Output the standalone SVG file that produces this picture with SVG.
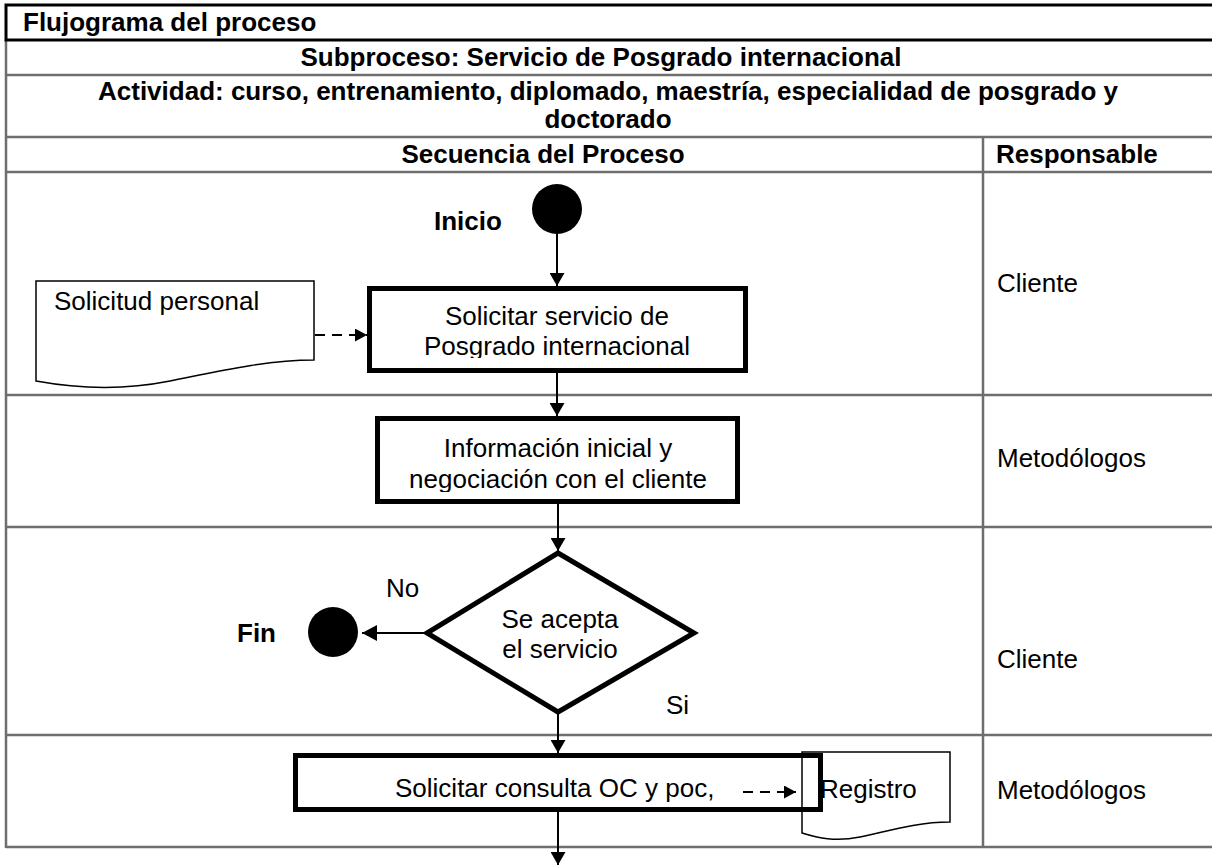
<svg xmlns="http://www.w3.org/2000/svg" width="1212" height="867" viewBox="0 0 1212 867">
  <style>
    .grid { stroke: #6e6e6e; stroke-width: 2.5; fill: none; }
    .frame { stroke: #000; stroke-width: 3; fill: none; }
    .hdr { font-family: "Liberation Sans", Arial, sans-serif; font-weight: bold; font-size: 26px; fill: #000; }
    .txt { font-family: "Liberation Sans", Arial, sans-serif; font-size: 26px; fill: #000; }
    .mid { text-anchor: middle; }
    .box { fill: #fff; stroke: #000; stroke-width: 5; }
    .doc { fill: #fff; stroke: #000; stroke-width: 1.5; }
    .flow { stroke: #000; stroke-width: 2; fill: none; }
    .dash { stroke: #000; stroke-width: 2; fill: none; stroke-dasharray: 10 7; }
  </style>
  <defs>
    <marker id="tri" viewBox="0 0 13 15" refX="13" refY="7.5" markerWidth="13" markerHeight="15" markerUnits="userSpaceOnUse" orient="auto">
      <path d="M0,0 L13,7.5 L0,15 Z" fill="#000"/>
    </marker>
    <marker id="triBig" viewBox="0 0 15 16" refX="15" refY="8" markerWidth="15" markerHeight="16" markerUnits="userSpaceOnUse" orient="auto">
      <path d="M0,0 L15,8 L0,16 Z" fill="#000"/>
    </marker>
    <marker id="triDash" viewBox="0 0 12 13" refX="12" refY="6.5" markerWidth="12" markerHeight="13" markerUnits="userSpaceOnUse" orient="auto">
      <path d="M0,0 L12,6.5 L0,13 Z" fill="#000"/>
    </marker>
    <clipPath id="clipBox1"><rect x="367" y="286" width="381" height="72"/></clipPath>
    <clipPath id="clipBox2"><rect x="375" y="416" width="365" height="76"/></clipPath>
  </defs>

  <rect width="1212" height="867" fill="#fff"/>

  <!-- table grid -->
  <g id="table">
    <line class="grid" x1="6" y1="40" x2="6" y2="848"/>
    <line class="grid" x1="6" y1="75" x2="1212" y2="75"/>
    <line class="grid" x1="6" y1="137" x2="1212" y2="137"/>
    <line class="grid" x1="6" y1="172" x2="1212" y2="172"/>
    <line class="grid" x1="6" y1="395" x2="1212" y2="395"/>
    <line class="grid" x1="6" y1="527" x2="1212" y2="527"/>
    <line class="grid" x1="6" y1="735" x2="1212" y2="735"/>
    <line class="grid" x1="6" y1="847" x2="1212" y2="847"/>
    <line class="grid" x1="983" y1="137" x2="983" y2="847"/>
    <path class="frame" d="M1212,5 H6 V40 H1212"/>

    <text class="hdr" x="23" y="31">Flujograma del proceso</text>
    <text class="hdr mid" x="601" y="66">Subproceso: Servicio de Posgrado internacional</text>
    <text class="hdr mid" x="608" y="100">Actividad: curso, entrenamiento, diplomado, maestría, especialidad de posgrado y</text>
    <text class="hdr mid" x="608" y="128">doctorado</text>
    <text class="hdr mid" x="543" y="163">Secuencia del Proceso</text>
    <text class="hdr" x="996" y="163">Responsable</text>

    <text class="txt" x="997" y="292">Cliente</text>
    <text class="txt" x="997" y="467">Metodólogos</text>
    <text class="txt" x="997" y="668">Cliente</text>
    <text class="txt" x="997" y="799">Metodólogos</text>
  </g>

  <!-- start -->
  <g id="inicio">
    <circle cx="557" cy="209" r="25" fill="#000"/>
    <text class="hdr" x="434" y="230">Inicio</text>
  </g>

  <!-- input document -->
  <g id="solicitud-personal">
    <path class="doc" d="M36,281 H314 V360 C265,360 215,372 170,381 C125,390 80,389 36,381 Z"/>
    <text class="txt" x="54" y="310">Solicitud personal</text>
  </g>

  <g id="solicitar-servicio">
    <rect class="box" x="369.5" y="288.5" width="376" height="82"/>
    <g clip-path="url(#clipBox1)">
      <text class="txt mid" x="557" y="325">Solicitar servicio de</text>
      <text class="txt mid" x="557" y="355">Posgrado internacional</text>
    </g>
  </g>

  <g id="informacion-inicial">
    <rect class="box" x="377.5" y="418.5" width="360" height="83"/>
    <g clip-path="url(#clipBox2)">
      <text class="txt mid" x="558" y="457">Información inicial y</text>
      <text class="txt mid" x="558" y="488">negociación con el cliente</text>
    </g>
  </g>

  <g id="decision">
    <polygon class="box" points="558,553 694,633 558,712 427,633"/>
    <text class="txt mid" x="560" y="628">Se acepta</text>
    <text class="txt mid" x="560" y="658">el servicio</text>
    <text class="txt" x="386" y="597">No</text>
    <text class="txt" x="666" y="714">Si</text>
  </g>

  <g id="fin">
    <circle cx="333" cy="632" r="25" fill="#000"/>
    <text class="hdr" x="237" y="642">Fin</text>
  </g>

  <g id="solicitar-consulta">
    <rect class="box" x="295.5" y="755.5" width="525" height="54"/>
    <text class="txt" x="395" y="797">Solicitar consulta OC y poc,</text>
  </g>

  <g id="registro">
    <path class="doc" style="fill:none" d="M802,752 H950 V822 C915,822 885,832 860,837 C835,842 818,838 802,833 Z"/>
    <text class="txt" x="820" y="798">Registro</text>
  </g>

  <!-- connectors -->
  <g id="connectors">
    <line class="flow" x1="557" y1="234" x2="557" y2="286" marker-end="url(#tri)"/>
    <line class="dash" x1="315" y1="335" x2="367" y2="335" marker-end="url(#triDash)"/>
    <line class="flow" x1="557" y1="373" x2="557" y2="416" marker-end="url(#tri)"/>
    <line class="flow" x1="558" y1="504" x2="558" y2="551" marker-end="url(#tri)"/>
    <line class="flow" x1="424" y1="633" x2="362" y2="633" stroke-width="5" marker-end="url(#triBig)"/>
    <line class="flow" x1="558" y1="714" x2="558" y2="753" marker-end="url(#tri)"/>
    <line class="dash" x1="743" y1="792" x2="796" y2="792" marker-end="url(#triDash)"/>
    <line class="flow" x1="558" y1="812" x2="558" y2="865" marker-end="url(#tri)"/>
  </g>
</svg>
